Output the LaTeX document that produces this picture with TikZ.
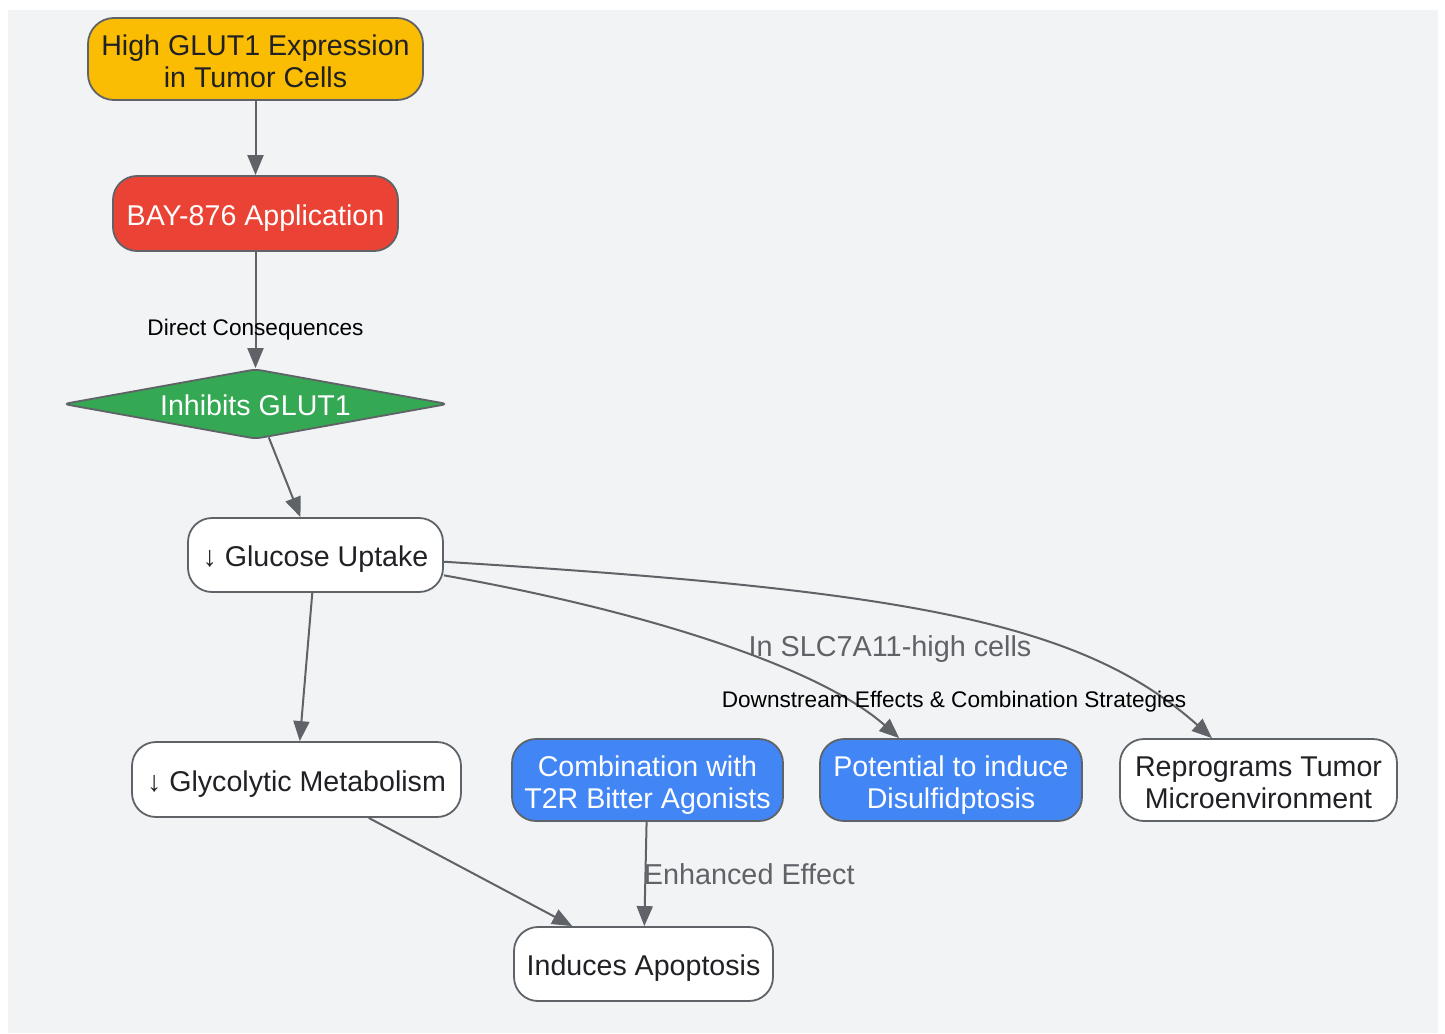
\documentclass[tikz,border=0pt]{standalone}
\usepackage{fontspec}
\setmainfont{Liberation Sans}
\usetikzlibrary{shapes.geometric,arrows.meta}
\definecolor{bgc}{HTML}{F1F3F4}
\definecolor{edgec}{HTML}{5F6368}
\definecolor{txtc}{HTML}{202124}
\definecolor{yel}{HTML}{FBBC04}
\definecolor{redc}{HTML}{EA4335}
\definecolor{grn}{HTML}{34A853}
\definecolor{blu}{HTML}{4285F4}
\newcommand{\twoline}[2]{\begin{tabular}[t]{@{}c@{}}#1\\#2\end{tabular}}
\tikzset{
  box/.style={draw=edgec, line width=0.9pt, rounded corners=12pt, inner sep=0pt,
     font=\fontsize{14.3pt}{16.2pt}\selectfont, text=txtc, fill=white,
     text height=11.5pt, text depth=0pt},
  box2/.style={box, text height=4pt, text depth=8pt},
  conn/.style={draw=edgec, line width=1pt, -{Triangle[length=10pt,width=8pt]}},
  elabel/.style={font=\fontsize{11.3pt}{13pt}\selectfont, text=black, inner sep=0pt},
  glabel/.style={font=\fontsize{14.4pt}{16pt}\selectfont, text=edgec, inner sep=0pt}
}
\begin{document}
\begin{tikzpicture}[x=0.5pt,y=-0.5pt]
\useasboundingbox (0,0) rectangle (1445,1033);
\fill[bgc] (8,10) rectangle (1438,1033);

\node[box2, fill=yel, minimum width=167.5pt, minimum height=41pt, rounded corners=13pt] (high) at (255.5,59) {\twoline{High GLUT1 Expression}{in Tumor Cells}};
\node[box, fill=redc, text=white, minimum width=142.5pt, minimum height=37.5pt] (bay) at (255.5,213.5) {BAY-876 Application};
\node[draw=edgec, line width=0.9pt, fill=grn, text=white, shape=diamond, aspect=5.5, rounded corners=3pt,
      minimum width=192.5pt, minimum height=35pt, inner sep=0pt, text height=11.7pt, text depth=0pt,
      font=\fontsize{14.3pt}{16.2pt}\selectfont] (inh) at (255.5,404) {Inhibits GLUT1};
\node[box, minimum width=127.5pt, minimum height=37pt] (glu) at (315.5,555) {↓ Glucose Uptake};
\node[box, minimum width=164.5pt, minimum height=37.5pt] (gly) at (296.5,779.5) {↓ Glycolytic Metabolism};
\node[box2, fill=blu, text=white, minimum width=135.5pt, minimum height=41pt] (comb) at (647.5,780) {\twoline{Combination with}{T2R Bitter Agonists}};
\node[box2, fill=blu, text=white, minimum width=131pt, minimum height=41pt] (pot) at (951,780) {\twoline{Potential to induce}{Disulfidptosis}};
\node[box2, minimum width=138.5pt, minimum height=41pt] (rep) at (1258.5,780) {\twoline{Reprograms Tumor}{Microenvironment}};
\node[box, minimum width=129.5pt, minimum height=37pt] (apo) at (643.5,964) {Induces Apoptosis};

\draw[conn] (high) -- (bay);
\draw[conn] (bay) -- (inh);
\node[elabel, anchor=base] (dc) at (255.5,335.7) {Direct Consequences};
\draw[conn] (inh) -- (glu);
\draw[conn] (glu) -- (gly);
\draw[conn] (gly) -- (apo);
\draw[conn] (comb) -- node[glabel, pos=0.6, anchor=base west, xshift=-1.2pt] (enh) {Enhanced Effect} (apo);
\draw[conn] (glu.-9.4) .. controls (650,612) and (820,668) .. (pot.141.2);
\draw[conn] (glu.-3.1) .. controls (900,590) and (1080,620) .. (rep.138.6);
\node[glabel, anchor=base] (slc) at (890,656.7) {In SLC7A11-high cells};
\node[elabel, anchor=base] (ds) at (954,707.7) {Downstream Effects \& Combination Strategies};
\end{tikzpicture}
\end{document}
